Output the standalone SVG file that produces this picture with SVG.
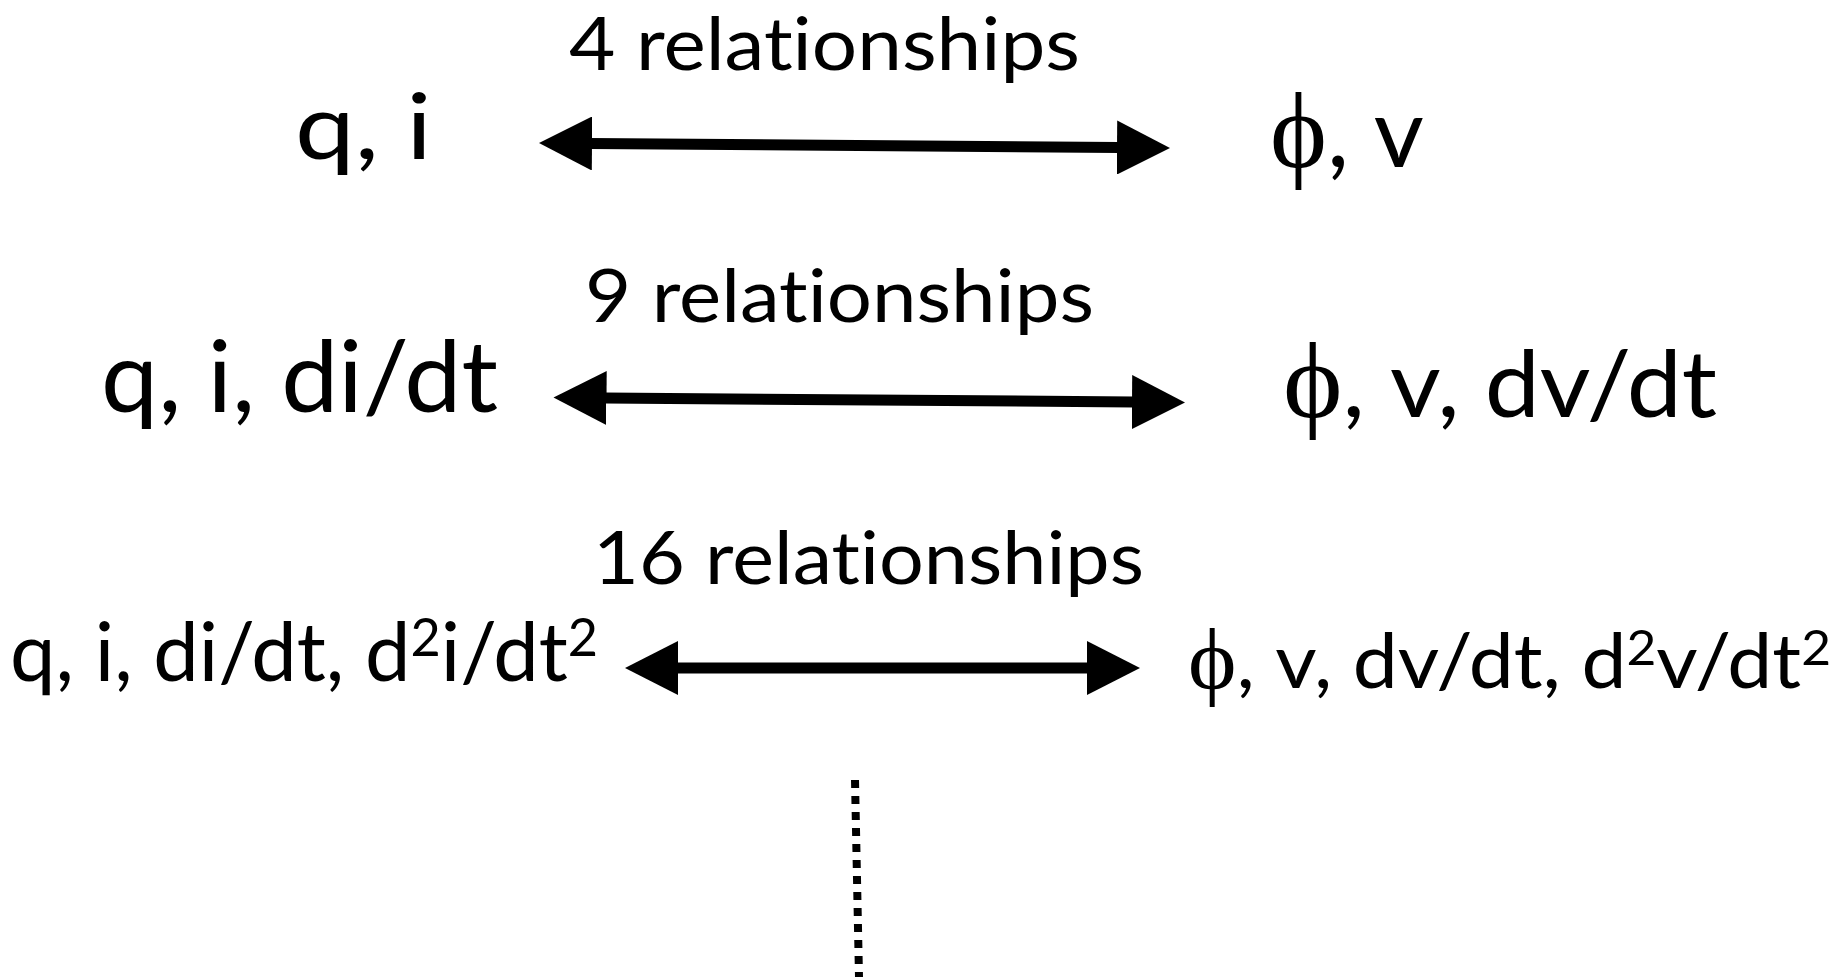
<svg xmlns="http://www.w3.org/2000/svg" width="1843" height="977" viewBox="0 0 1843 977">
  <style>
    .t { font-family: Lato, "Open Sans", sans-serif; fill: #000; font-variant-ligatures: none; font-feature-settings: "liga" 0, "clig" 0; }
    .phi { font-family: "Liberation Serif", "Times New Roman", serif; }
    .shaft { stroke: #000; stroke-width: 11; fill: none; marker-start: url(#head); marker-end: url(#head); }
    .dots { stroke: #000; stroke-width: 8; stroke-dasharray: 8 8; fill: none; }
  </style>
  <defs>
    <marker id="head" viewBox="0 0 53 54" refX="2" refY="27" markerWidth="53" markerHeight="54" markerUnits="userSpaceOnUse" orient="auto-start-reverse">
      <path d="M0,0 L53,27 L0,54 Z" fill="#000"/>
    </marker>
  </defs>
  <rect width="1843" height="977" fill="#fff"/>

  <!-- row 1 -->
  <g id="n-q-i">
    <text class="t" x="295" y="159" font-size="92" textLength="137" lengthAdjust="spacingAndGlyphs">q, i</text>
  </g>
  <g id="n-phi-v">
    <text class="t" x="1270" y="167" font-size="96" textLength="154" lengthAdjust="spacingAndGlyphs"><tspan class="phi" font-size="107">ϕ</tspan>, v</text>
  </g>

  <!-- row 2 -->
  <g id="n-q-i-didt">
    <text class="t" x="101" y="412" font-size="99" textLength="397" lengthAdjust="spacingAndGlyphs">q, i, di/dt</text>
  </g>
  <g id="n-phi-v-dvdt">
    <text class="t" x="1283" y="417" font-size="93" textLength="434" lengthAdjust="spacingAndGlyphs"><tspan class="phi" font-size="107">ϕ</tspan>, v, dv/dt</text>
  </g>

  <!-- row 3 -->
  <g id="n-q-i-didt-d2idt2">
    <text class="t" x="10" y="681" font-size="81" textLength="588" lengthAdjust="spacingAndGlyphs">q, i, di/dt, d<tspan font-size="52" dy="-25">2</tspan><tspan dy="25">i/dt</tspan><tspan font-size="52" dy="-25">2</tspan></text>
  </g>
  <g id="n-phi-v-dvdt-d2vdt2">
    <text class="t" x="1188" y="688" font-size="75" textLength="643" lengthAdjust="spacingAndGlyphs"><tspan class="phi" font-size="86">ϕ</tspan>, v, dv/dt, d<tspan font-size="48" dy="-23">2</tspan><tspan dy="23">v/dt</tspan><tspan font-size="48" dy="-23">2</tspan></text>
  </g>

  <!-- double-headed connectors with their labels -->
  <g id="connectors">
    <line class="shaft" x1="590" y1="143.5" x2="1119" y2="147.5"/>
    <text class="t" x="569" y="70" font-size="74" textLength="511" lengthAdjust="spacingAndGlyphs">4 relationships</text>

    <line class="shaft" x1="604.5" y1="398" x2="1134" y2="402"/>
    <text class="t" x="585" y="322" font-size="74" textLength="509" lengthAdjust="spacingAndGlyphs">9 relationships</text>

    <line class="shaft" x1="676" y1="668" x2="1089" y2="668"/>
    <text class="t" x="593" y="584" font-size="74" textLength="551" lengthAdjust="spacingAndGlyphs">16 relationships</text>

    <!-- continuation -->
    <line class="dots" x1="855" y1="780" x2="859" y2="977"/>
  </g>
</svg>
